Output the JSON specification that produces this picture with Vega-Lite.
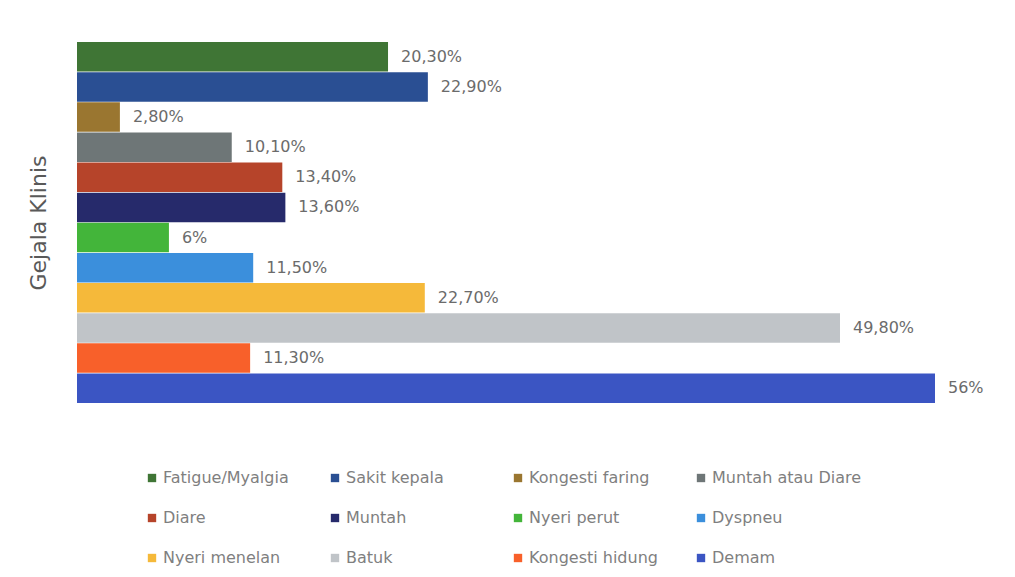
{
  "$schema": "https://vega.github.io/schema/vega-lite/v6.json",
  "autosize": "none",
  "width": 858,
  "height": 361,
  "padding": {"left": 77, "top": 42, "right": 80, "bottom": 174},
  "background": "white",
  "config": {
    "view": {"stroke": null},
    "font": "DejaVu Sans"
  },
  "data": {
    "values": [
      {"gejala": "Fatigue/Myalgia", "persen": 20.3, "label": "20,30%"},
      {"gejala": "Sakit kepala", "persen": 22.9, "label": "22,90%"},
      {"gejala": "Kongesti faring", "persen": 2.8, "label": "2,80%"},
      {"gejala": "Muntah atau Diare", "persen": 10.1, "label": "10,10%"},
      {"gejala": "Diare", "persen": 13.4, "label": "13,40%"},
      {"gejala": "Muntah", "persen": 13.6, "label": "13,60%"},
      {"gejala": "Nyeri perut", "persen": 6, "label": "6%"},
      {"gejala": "Dyspneu", "persen": 11.5, "label": "11,50%"},
      {"gejala": "Nyeri menelan", "persen": 22.7, "label": "22,70%"},
      {"gejala": "Batuk", "persen": 49.8, "label": "49,80%"},
      {"gejala": "Kongesti hidung", "persen": 11.3, "label": "11,30%"},
      {"gejala": "Demam", "persen": 56, "label": "56%"}
    ]
  },
  "encoding": {
    "y": {
      "field": "gejala",
      "type": "nominal",
      "sort": null,
      "scale": {"paddingInner": 0.02, "paddingOuter": 0},
      "axis": {
        "title": "Gejala Klinis",
        "labels": false,
        "ticks": false,
        "domain": false,
        "titleFontSize": 22,
        "titleFontWeight": "normal",
        "titleColor": "#595959",
        "titlePadding": 27
      }
    },
    "x": {
      "field": "persen",
      "type": "quantitative",
      "scale": {"domain": [0, 56], "nice": false, "zero": true},
      "axis": null
    }
  },
  "layer": [
    {
      "mark": {"type": "bar"},
      "encoding": {
        "color": {
          "field": "gejala",
          "type": "nominal",
          "sort": null,
          "scale": {
            "domain": ["Fatigue/Myalgia", "Sakit kepala", "Kongesti faring", "Muntah atau Diare", "Diare", "Muntah", "Nyeri perut", "Dyspneu", "Nyeri menelan", "Batuk", "Kongesti hidung", "Demam"],
            "range": ["#3f7535", "#2a4f93", "#9a7630", "#6e7677", "#b6442a", "#262a6b", "#43b53a", "#3b8fdc", "#f5b93a", "#c0c4c8", "#f8602a", "#3b55c3"]
          },
          "legend": {
            "title": null,
            "orient": "none",
            "legendX": 67,
            "legendY": 428,
            "direction": "horizontal",
            "columns": 4,
            "gridAlign": "all",
            "columnPadding": 14,
            "rowPadding": 24,
            "symbolType": "square",
            "symbolSize": 70,
            "symbolStrokeWidth": 0,
            "labelOffset": 3,
            "labelFontSize": 16,
            "labelColor": "#7f7f7f",
            "labelLimit": 300
          }
        }
      }
    },
    {
      "mark": {"type": "text", "align": "left", "dx": 13, "fontSize": 16, "color": "#6b6b6b"},
      "encoding": {
        "text": {"field": "label"}
      }
    }
  ]
}
